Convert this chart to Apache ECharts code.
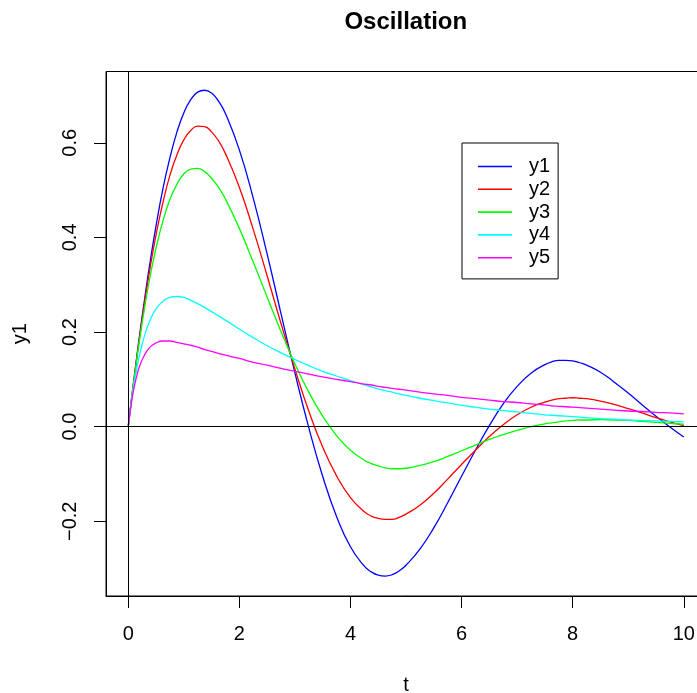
<!DOCTYPE html>
<html>
<head>
<meta charset="utf-8">
<script src="https://cdn.jsdelivr.net/npm/echarts@6/dist/echarts.min.js"></script>
<style>
  html, body { margin: 0; padding: 0; background: #fff; }
  #chart { width: 697px; height: 693px; }
</style>
</head>
<body>
<div id="chart"></div>
<script>
// Sample times (denser near t = 0 and around the turning points)
const t = [0, 0.05, 0.1, 0.15, 0.2, 0.3, 0.4, 0.5, 0.625, 0.75, 0.875,
  1, 1.125, 1.25, 1.375, 1.5, 1.625, 1.75, 2, 2.25, 2.5, 2.75, 3,
  3.25, 3.5, 3.75, 4, 4.25, 4.375, 4.5, 4.625, 4.75, 4.875, 5,
  5.25, 5.5, 5.75, 6, 6.25, 6.5, 6.75, 7,
  7.25, 7.5, 7.625, 7.75, 7.875, 8, 8.125, 8.25, 8.5, 8.75, 9, 9.25, 9.5, 9.75, 10];

const y1 = [0, 0.049, 0.097, 0.144, 0.189, 0.274, 0.353, 0.424, 0.503, 0.568, 0.622,
  0.663, 0.691, 0.707, 0.711, 0.705, 0.688, 0.662, 0.585, 0.483, 0.365, 0.239, 0.114,
  -0.002, -0.105, -0.190, -0.254, -0.295, -0.307, -0.314, -0.316, -0.313, -0.305, -0.293,
  -0.259, -0.214, -0.161, -0.105, -0.050, 0.002, 0.048, 0.085,
  0.113, 0.131, 0.137, 0.140, 0.140, 0.139, 0.135, 0.130, 0.115, 0.094, 0.071, 0.046, 0.022, -0.001, -0.022];

const y2 = [0, 0.049, 0.096, 0.142, 0.185, 0.267, 0.340, 0.405, 0.474, 0.531, 0.574,
  0.606, 0.626, 0.635, 0.634, 0.623, 0.604, 0.577, 0.506, 0.417, 0.319, 0.218, 0.122,
  0.033, -0.043, -0.104, -0.150, -0.180, -0.189, -0.194, -0.196, -0.196, -0.192, -0.185,
  -0.166, -0.141, -0.111, -0.080, -0.050, -0.021, 0.004, 0.025,
  0.041, 0.052, 0.056, 0.059, 0.060, 0.061, 0.060, 0.059, 0.054, 0.047, 0.038, 0.029, 0.019, 0.010, 0.002];

const y3 = [0, 0.049, 0.095, 0.139, 0.180, 0.255, 0.321, 0.377, 0.435, 0.480, 0.512,
  0.534, 0.544, 0.546, 0.539, 0.525, 0.506, 0.481, 0.419, 0.348, 0.274, 0.201, 0.133,
  0.073, 0.022, -0.019, -0.050, -0.071, -0.078, -0.083, -0.087, -0.089, -0.089, -0.088,
  -0.082, -0.074, -0.063, -0.051, -0.039, -0.027, -0.017, -0.008,
  0.000, 0.006, 0.008, 0.010, 0.012, 0.013, 0.014, 0.014, 0.015, 0.014, 0.013, 0.011, 0.009, 0.007, 0.005];

const y4 = [0, 0.046, 0.086, 0.120, 0.149, 0.195, 0.227, 0.249, 0.265, 0.273, 0.275,
  0.273, 0.267, 0.260, 0.252, 0.243, 0.234, 0.225, 0.206, 0.188, 0.171, 0.156, 0.142,
  0.129, 0.117, 0.107, 0.097, 0.088, 0.084, 0.080, 0.076, 0.073, 0.069, 0.066,
  0.060, 0.055, 0.050, 0.045, 0.041, 0.037, 0.034, 0.031,
  0.028, 0.025, 0.024, 0.023, 0.022, 0.021, 0.020, 0.019, 0.017, 0.016, 0.014, 0.013, 0.012, 0.011, 0.010];

const y5 = [0, 0.044, 0.079, 0.105, 0.126, 0.153, 0.169, 0.177, 0.181, 0.181, 0.178,
  0.175, 0.172, 0.168, 0.163, 0.159, 0.155, 0.151, 0.144, 0.136, 0.130, 0.123, 0.117,
  0.111, 0.105, 0.100, 0.095, 0.090, 0.088, 0.085, 0.083, 0.081, 0.079, 0.077,
  0.073, 0.069, 0.066, 0.062, 0.059, 0.056, 0.053, 0.051,
  0.048, 0.046, 0.044, 0.043, 0.042, 0.041, 0.040, 0.039, 0.037, 0.035, 0.033, 0.032, 0.030, 0.029, 0.027];

const seriesNames = ['y1', 'y2', 'y3', 'y4', 'y5'];
const xTicks = [0, 2, 4, 6, 8, 10];
const yTicks = [-0.2, 0, 0.2, 0.4, 0.6];

const colors = ['#0000ff', '#ff0000', '#00ff00', '#00ffff', '#ff00ff'];
const FONT = '"Liberation Sans", Arial, Helvetica, sans-serif';
const allY = [y1, y2, y3, y4, y5];

const chart = echarts.init(document.getElementById('chart'), null, { renderer: 'canvas' });

const series = allY.map((ys, k) => ({
  name: seriesNames[k],
  type: 'line',
  data: t.map((x, i) => [x, ys[i]]),
  symbol: 'none',
  showSymbol: false,
  smooth: 0.5,
  clip: true,
  color: colors[k],
  itemStyle: { color: colors[k] },
  lineStyle: { color: colors[k], width: 1.3 },
  emphasis: { disabled: true },
  z: 3
}));

// Reference lines at t = 0 and y = 0
series[0].markLine = {
  silent: true,
  symbol: ['none', 'none'],
  label: { show: false },
  emphasis: { disabled: true },
  lineStyle: { color: '#000', width: 1, type: 'solid' },
  data: [{ xAxis: 0 }, { yAxis: 0 }]
};

const axisLineStyle = { show: true, onZero: false, lineStyle: { color: '#000', width: 1 } };

chart.setOption({
  animation: false,
  backgroundColor: '#fff',
  textStyle: { fontFamily: FONT },
  graphic: [{
    type: 'text',
    x: 405.8,
    y: 22,
    style: {
      text: 'Oscillation',
      fill: '#000',
      font: 'bold 24px ' + FONT,
      align: 'center',
      verticalAlign: 'middle'
    }
  }],
  grid: {
    left: 106, top: 71.5, width: 600, height: 524.5,
    show: true, borderColor: '#000', borderWidth: 1, backgroundColor: 'transparent',
    containLabel: false,
    outerBoundsMode: 'none'
  },
  legend: {
    orient: 'vertical',
    left: 462, top: 143,
    icon: 'rect',
    itemWidth: 34, itemHeight: 1.6, itemGap: 2.8,
    padding: [13.5, 8, 11.2, 16],
    borderColor: '#000', borderWidth: 1,
    selectedMode: false,
    textStyle: { fontSize: 20, lineHeight: 20, color: '#000', fontFamily: FONT, padding: [0, 0, 0, 12] },
    data: seriesNames
  },
  xAxis: {
    type: 'value',
    min: -0.4, max: 10.4,
    splitLine: { show: false },
    axisLine: axisLineStyle,
    axisTick: { show: true, customValues: xTicks, length: 12, lineStyle: { color: '#000', width: 1 } },
    axisLabel: { customValues: xTicks, margin: 28, fontSize: 20, color: '#000', fontFamily: FONT },
    name: 't',
    nameLocation: 'middle',
    nameGap: 79,
    nameTextStyle: { fontSize: 20, color: '#000', fontFamily: FONT }
  },
  yAxis: {
    type: 'value',
    min: -0.358, max: 0.7506,
    splitLine: { show: false },
    axisLine: axisLineStyle,
    axisTick: { show: true, customValues: yTicks, length: 12, lineStyle: { color: '#000', width: 1 } },
    axisLabel: {
      customValues: yTicks, rotate: 90, margin: 26, fontSize: 20, color: '#000', fontFamily: FONT,
      formatter: v => v.toFixed(1).replace('-', '\u2212')
    },
    name: 'y1',
    nameLocation: 'middle',
    nameGap: 76,
    nameRotate: 90,
    nameTextStyle: { fontSize: 20, color: '#000', fontFamily: FONT }
  },
  series: series
});
</script>
</body>
</html>
